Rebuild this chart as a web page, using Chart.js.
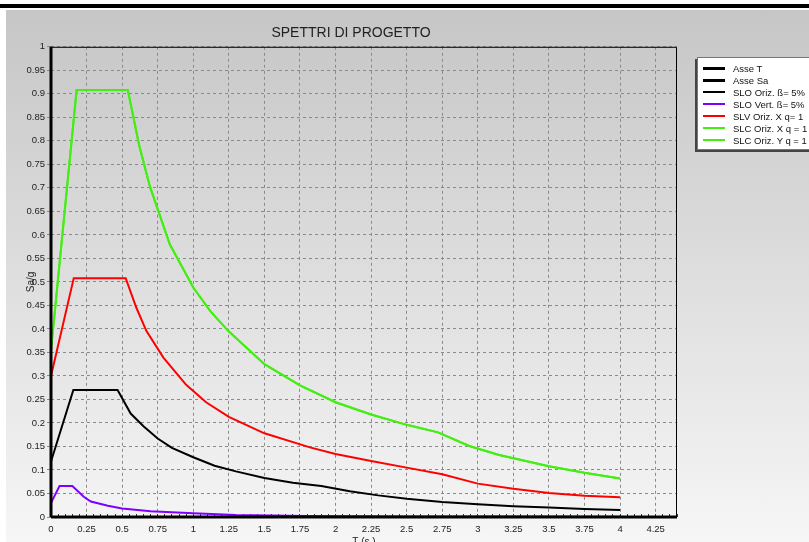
<!DOCTYPE html>
<html>
<head>
<meta charset="utf-8">
<script src="https://cdn.jsdelivr.net/npm/chart.js@4.4.1/dist/chart.umd.min.js"></script>
<style>
    html, body { margin: 0; padding: 0; width: 809px; height: 542px; overflow: hidden; background: #fff; }
    #top-bar { position: absolute; left: 0; top: 4px; width: 809px; height: 4px; background: #000; }
    #panel { position: absolute; left: 6px; top: 10px; width: 803px; height: 532px; background: linear-gradient(#c6c6c6, #f6f6f6); }
    #wrap { position: absolute; left: 6px; top: 10px; width: 803px; height: 540px; }
    #legend {
        position: absolute; left: 697px; top: 57px; width: 125px;
        padding: 4px 0 3px 0; background: #fff;
        border: 1px solid #777; box-shadow: -2px 2px 0 #444;
        font: 9.5px "Liberation Sans", Arial, sans-serif; color: #111;
    }
    #legend .row { display: flex; align-items: center; height: 12px; }
    #legend .sample { width: 22px; margin: 0 8px 0 5px; }
</style>
</head>
<body>
<div id="top-bar"></div>
<div id="panel"></div>
<div id="wrap"><canvas id="spectra-graph" width="803" height="540"></canvas></div>
<div id="legend"></div>

<script>
// periodo T (s) e accelerazione Sa/g per ogni spettro
const asseT_T = [0, 4.4];
const asseT_Sa = [0, 0];
const asseSa_T = [0, 0];
const asseSa_Sa = [0, 1];

const sloOrizT = [0, 0.157, 0.468, 0.56, 0.65, 0.75, 0.85, 1.0, 1.15, 1.3, 1.5, 1.7, 1.9, 2.1, 2.3, 2.5, 2.75, 3.0, 3.25, 3.5, 3.75, 4.0];
const sloOrizSa = [0.118, 0.27, 0.27, 0.22, 0.193, 0.167, 0.147, 0.127, 0.109, 0.097, 0.083, 0.073, 0.066, 0.055, 0.046, 0.039, 0.032, 0.027, 0.023, 0.020, 0.017, 0.015];

const sloVertT = [0, 0.06, 0.15, 0.23, 0.28, 0.4, 0.5, 0.7, 1.0, 1.3, 1.8, 2.5, 3.2, 4.0];
const sloVertSa = [0.030, 0.066, 0.066, 0.043, 0.033, 0.024, 0.018, 0.012, 0.008, 0.004, 0.002, 0.0012, 0.0008, 0.0005];

const slvOrizT = [0, 0.16, 0.525, 0.6, 0.67, 0.79, 0.95, 1.09, 1.25, 1.5, 1.82, 2.0, 2.25, 2.5, 2.75, 3.0, 3.25, 3.5, 3.75, 4.0];
const slvOrizSa = [0.30, 0.508, 0.508, 0.445, 0.396, 0.339, 0.281, 0.244, 0.213, 0.178, 0.148, 0.134, 0.119, 0.105, 0.091, 0.071, 0.060, 0.051, 0.045, 0.042];

const slcOrizT = [0, 0.18, 0.54, 0.62, 0.695, 0.835, 1.0, 1.12, 1.245, 1.5, 1.75, 2.0, 2.25, 2.5, 2.72, 2.94, 3.15, 3.5, 3.75, 4.0];
const slcOrizXSa = [0.355, 0.908, 0.908, 0.79, 0.703, 0.58, 0.488, 0.438, 0.396, 0.325, 0.280, 0.244, 0.218, 0.196, 0.180, 0.151, 0.132, 0.108, 0.094, 0.082];
const slcOrizYSa = [0.355, 0.908, 0.908, 0.79, 0.703, 0.58, 0.488, 0.438, 0.396, 0.325, 0.280, 0.244, 0.218, 0.196, 0.180, 0.151, 0.132, 0.108, 0.094, 0.082];

const FONT = '"Liberation Sans", Arial, sans-serif';

function points(tList, saList) {
    return tList.map((t, i) => ({ x: t, y: saList[i] }));
}

function serie(label, tList, saList, color, width) {
    return {
        label: label,
        data: points(tList, saList),
        borderColor: color,
        backgroundColor: color,
        borderWidth: width,
        pointRadius: 0,
        tension: 0,
        fill: false
    };
}

function isMajor(v) {
    const k = v / 0.25;
    return Math.abs(k - Math.round(k)) < 1e-6;
}

// cornice sottile in alto e a destra dell'area del grafico
const frame = {
    id: 'frame',
    beforeDatasetsDraw(chart) {
        const a = chart.chartArea;
        const ctx = chart.ctx;
        ctx.save();
        ctx.strokeStyle = '#000';
        ctx.lineWidth = 1;
        ctx.beginPath();
        ctx.moveTo(a.left, a.top + 0.5);
        ctx.lineTo(a.right - 0.5, a.top + 0.5);
        ctx.lineTo(a.right - 0.5, a.bottom);
        ctx.stroke();
        ctx.restore();
    }
};

let spectraChart;

function createSpectraChart() {
    const datasets = [
        Object.assign(serie('Asse T', asseT_T, asseT_Sa, '#000', 3), { clip: false }),
        Object.assign(serie('Asse Sa', asseSa_T, asseSa_Sa, '#000', 3), { clip: false }),
        serie('SLO Oriz. ß= 5%', sloOrizT, sloOrizSa, '#000', 2),
        serie('SLO Vert. ß= 5%', sloVertT, sloVertSa, '#8000ff', 2),
        serie('SLV Oriz. X q= 1', slvOrizT, slvOrizSa, '#ff0000', 2),
        serie('SLC Oriz. X q = 1', slcOrizT, slcOrizXSa, '#44ee14', 2),
        serie('SLC Oriz. Y q = 1', slcOrizT, slcOrizYSa, '#44ee14', 2)
    ];

    const ctx = document.getElementById('spectra-graph').getContext('2d');
    if (spectraChart) spectraChart.destroy();

    spectraChart = new Chart(ctx, {
        type: 'line',
        data: { datasets: datasets },
        plugins: [frame],
        options: {
            responsive: false,
            animation: false,
            layout: { padding: { left: 19, right: 132, top: 0, bottom: 0 } },
            plugins: {
                legend: { display: false },
                tooltip: { enabled: false },
                title: {
                    display: true,
                    text: 'SPETTRI DI PROGETTO',
                    color: '#222',
                    font: { family: FONT, size: 14, weight: 'normal' },
                    padding: { top: 15, bottom: 5 }
                }
            },
            scales: {
                x: {
                    type: 'linear',
                    min: 0,
                    max: 4.4,
                    afterFit: scale => { scale.height = 33; },
                    border: { display: false, dash: [3, 3] },
                    grid: {
                        color: c => isMajor(c.tick.value) ? '#8a8a8a' : 'rgba(0,0,0,0)',
                        tickColor: '#333',
                        tickLength: -3,
                        lineWidth: 1
                    },
                    ticks: {
                        stepSize: 0.05,
                        autoSkip: false,
                        maxRotation: 0,
                        padding: 10,
                        color: '#222',
                        font: { family: FONT, size: 9.5 },
                        callback: v => isMajor(v) ? String(Math.round(v * 100) / 100) : ''
                    },
                    title: {
                        display: true,
                        text: 'T (s.)',
                        color: '#222',
                        font: { family: FONT, size: 10 },
                        padding: { top: 0, bottom: 2 }
                    }
                },
                y: {
                    min: 0,
                    max: 1,
                    afterFit: scale => { scale.width = 26; },
                    border: { display: false, dash: [3, 3] },
                    grid: {
                        color: '#8a8a8a',
                        tickColor: '#8a8a8a',
                        tickLength: 4,
                        lineWidth: 1
                    },
                    ticks: {
                        stepSize: 0.05,
                        autoSkip: false,
                        padding: 2,
                        color: '#222',
                        font: { family: FONT, size: 9.5 },
                        callback: v => String(Math.round(v * 100) / 100)
                    },
                    title: {
                        display: true,
                        text: 'Sa/g',
                        color: '#222',
                        font: { family: FONT, size: 10 },
                        padding: { top: 0, bottom: 0 }
                    }
                }
            }
        }
    });

    buildLegend(datasets);
}

function buildLegend(datasets) {
    const box = document.getElementById('legend');
    box.innerHTML = '';
    datasets.forEach(ds => {
        const row = document.createElement('div');
        row.className = 'row';
        const line = document.createElement('span');
        line.className = 'sample';
        line.style.borderTop = ds.borderWidth + 'px solid ' + ds.borderColor;
        const text = document.createElement('span');
        text.textContent = ds.label;
        row.appendChild(line);
        row.appendChild(text);
        box.appendChild(row);
    });
}

createSpectraChart();
</script>
</body>
</html>
